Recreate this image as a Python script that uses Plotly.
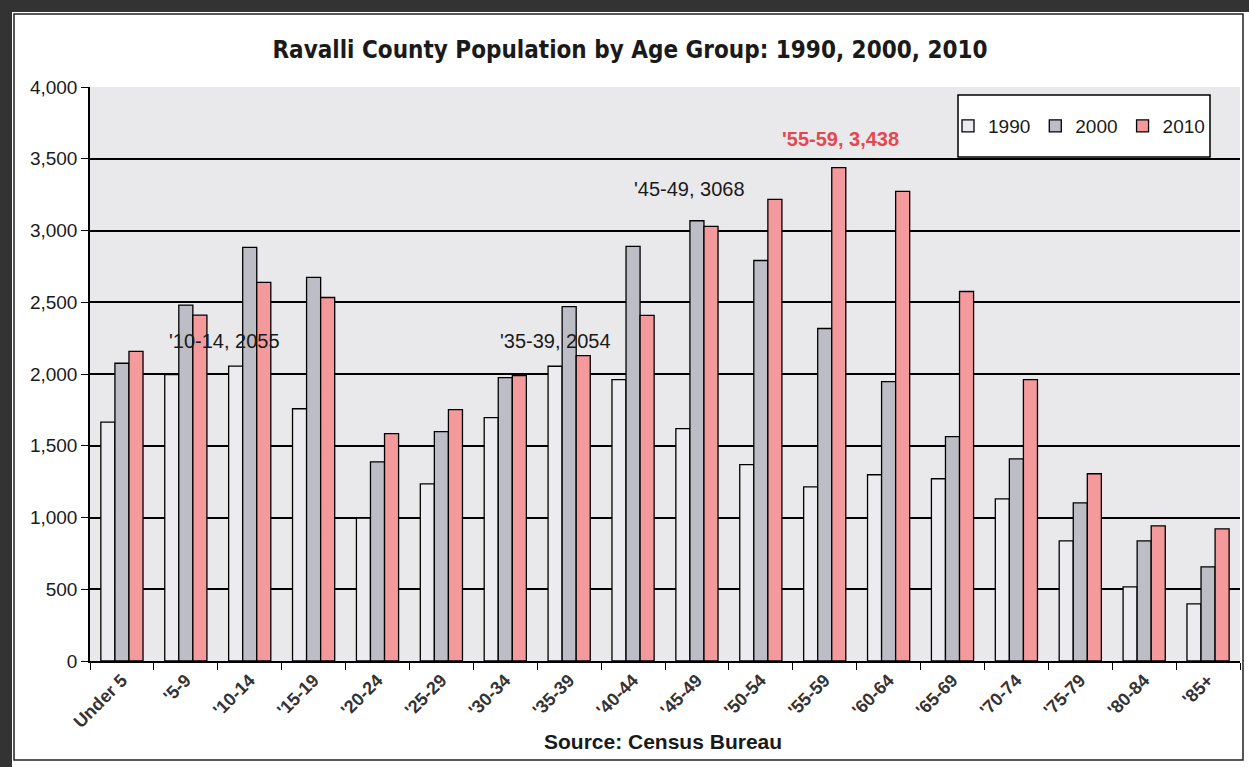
import plotly.graph_objects as go

categories = ["Under 5", "'5-9", "'10-14", "'15-19", "'20-24", "'25-29", "'30-34", "'35-39",
              "'40-44", "'45-49", "'50-54", "'55-59", "'60-64", "'65-69", "'70-74", "'75-79",
              "'80-84", "'85+"]
pop_1990 = [1665, 1995, 2055, 1758, 995, 1235, 1696, 2054, 1961, 1619, 1368, 1214, 1298, 1270, 1130, 837, 516, 398]
pop_2000 = [2075, 2480, 2882, 2673, 1388, 1598, 1975, 2470, 2889, 3068, 2791, 2317, 1947, 1563, 1409, 1102, 837, 656]
pop_2010 = [2158, 2410, 2638, 2533, 1584, 1752, 1989, 2128, 2408, 3029, 3217, 3438, 3273, 2575, 1961, 1305, 942, 921]
y_ticks = [0, 500, 1000, 1500, 2000, 2500, 3000, 3500, 4000]
y_tick_labels = ["0", "500", "1,000", "1,500", "2,000", "2,500", "3,000", "3,500", "4,000"]

W, H = 1249, 767
L, R, T, B = 90, 9, 87, 106
pw, ph = W - L - R, H - T - B

def px(x):
    return (x - L) / pw

def py(y):
    return (H - B - y) / ph

fig = go.Figure()
series = [("1990", pop_1990, "#ececf0"), ("2000", pop_2000, "#bdbdc5"), ("2010", pop_2010, "#f59a9c")]
for name, vals, col in series:
    fig.add_trace(go.Bar(x=categories, y=vals, name=name, marker=dict(color=col, line=dict(color="black", width=1.3))))

ann_font = dict(family="Liberation Sans, Arial", size=20, color="#1a1a1a")
annotations = [
    dict(x=1.6, y=2230, text="'10-14, 2055", font=ann_font),
    dict(x=6.78, y=2230, text="'35-39, 2054", font=ann_font),
    dict(x=8.89, y=3287, text="'45-49, 3068", font=ann_font),
    dict(x=11.24, y=3636, text="<b>'55-59, 3,438</b>", font=dict(family="Liberation Sans, Arial", size=20, color="#e5474f")),
]
for a in annotations:
    a.update(xref="x", yref="y", showarrow=False, yanchor="middle")

annotations.append(dict(xref="paper", yref="paper", x=px(663), y=py(741), yanchor="middle",
                        text="<b>Source: Census Bureau</b>",
                        showarrow=False, font=dict(family="Liberation Sans, Arial", size=21, color="#1a1a1a")))

shapes = [
    dict(type="rect", xref="paper", yref="paper", x0=px(14), x1=px(1243), y0=py(760), y1=py(14),
         line=dict(color="#222", width=1.5), fillcolor="rgba(0,0,0,0)", layer="below"),
    dict(type="rect", xref="paper", yref="paper", x0=px(0), x1=px(12), y0=py(767), y1=py(0),
         line=dict(width=0), fillcolor="#333333"),
    dict(type="rect", xref="paper", yref="paper", x0=px(0), x1=px(1249), y0=py(12), y1=py(0),
         line=dict(width=0), fillcolor="#333333"),
    dict(type="rect", xref="paper", yref="paper", x0=px(958), x1=px(1210), y0=py(157), y1=py(95),
         line=dict(color="black", width=1.5), fillcolor="white", layer="above"),
]

fig.update_layout(
    width=W, height=H,
    margin=dict(l=L, r=R, t=T, b=B, autoexpand=False),
    paper_bgcolor="white",
    plot_bgcolor="#e9e9ec",
    barmode="group",
    bargap=0.34,
    bargroupgap=0,
    title=dict(text="<b>Ravalli County Population by Age Group: 1990, 2000, 2010</b>",
               x=630 / W, xanchor="center", y=1 - 50 / H, yanchor="middle",
               font=dict(family="DejaVu Sans Condensed, Liberation Sans", size=24, color="#1a1a1a")),
    legend=dict(orientation="h", x=px(948), xanchor="left", y=py(126), yanchor="middle",
                bgcolor="rgba(0,0,0,0)", font=dict(family="Liberation Sans, Arial", size=19, color="#1a1a1a"),
                itemwidth=30, traceorder="normal"),
    xaxis=dict(type="category", tickson="boundaries", ticks="outside", ticklen=7, tickcolor="black",
               tickangle=-45, showline=True, linecolor="black", linewidth=1.5,
               tickfont=dict(family="Liberation Sans, Arial", size=18, color="#333", weight="bold"),
               showgrid=False),
    yaxis=dict(range=[0, 4000], tickvals=y_ticks, ticktext=y_tick_labels, ticks="outside", ticklen=7,
               tickcolor="black", showline=True, linecolor="black", linewidth=1.5,
               showgrid=True, gridcolor="black", gridwidth=1.5, zeroline=False,
               tickfont=dict(family="Liberation Sans, Arial", size=19, color="#1a1a1a")),
    annotations=annotations,
    shapes=shapes,
)

fig.write_html("out.html", config={"displayModeBar": False},
               post_script="document.body.style.margin='0';document.body.style.overflow='hidden';")
